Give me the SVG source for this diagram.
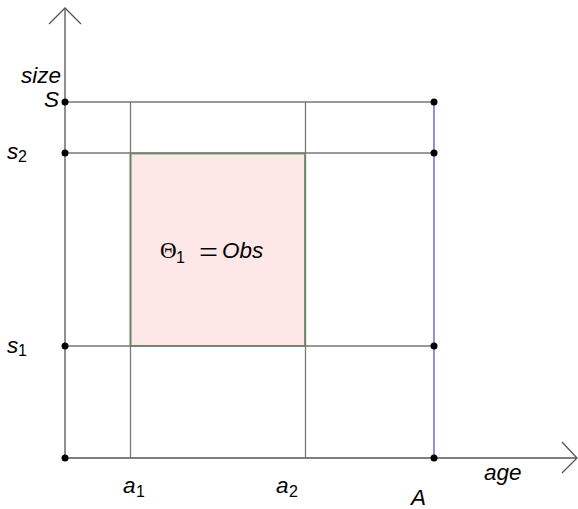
<svg xmlns="http://www.w3.org/2000/svg" width="578" height="509" viewBox="0 0 578 509">
<style>
.ln{stroke:#777;stroke-width:1.3;fill:none}
.ax{stroke:#555;stroke-width:1.3;fill:none}
.dot{fill:#000}
.t{font-family:"Liberation Sans",Arial,sans-serif;font-size:22.5px;font-style:italic;fill:#000}
.sub{font-family:"Liberation Sans",Arial,sans-serif;font-size:16px;font-style:normal;fill:#000}
.m{font-family:"Liberation Serif","Times New Roman",serif;font-size:23px;fill:#000}
.eq{font-family:"Liberation Serif","Times New Roman",serif;font-size:32px;fill:#000}
</style>
<rect width="578" height="509" fill="#fff"/>
<g id="region">
<rect x="130.5" y="153.5" width="174.5" height="192.5" fill="#fde8e7" stroke="#6aac5f" stroke-width="2"/>
<text x="160" y="258" class="m">Θ</text>
<text x="176" y="263" class="sub">1</text>
<text x="199" y="263" class="eq" textLength="19" lengthAdjust="spacingAndGlyphs">=</text>
<text x="222" y="258" class="t">Obs</text>
</g>
<g id="connectors">
<line class="ax" x1="65" y1="8" x2="65" y2="458"/>
<polyline class="ax" points="49,24 65,8 81,24"/>
<line class="ax" x1="65" y1="458" x2="576" y2="458"/>
<polyline class="ax" points="562,442 577,458 562,473"/>
<line class="ln" x1="65" y1="102" x2="434" y2="102"/>
<line class="ln" x1="65" y1="153" x2="434" y2="153"/>
<line class="ln" x1="65" y1="346" x2="434" y2="346"/>
<line class="ln" x1="130.5" y1="102" x2="130.5" y2="458"/>
<line class="ln" x1="305.5" y1="102" x2="305.5" y2="458"/>
<line stroke="#6b6bd6" stroke-width="1.5" x1="434" y1="102" x2="434" y2="458"/>
</g>
<g id="points">
<circle class="dot" cx="65" cy="102" r="3.5"/>
<circle class="dot" cx="65" cy="153" r="3.5"/>
<circle class="dot" cx="65" cy="346" r="3.5"/>
<circle class="dot" cx="65" cy="458" r="3.5"/>
<circle class="dot" cx="434" cy="102" r="3.5"/>
<circle class="dot" cx="434" cy="153" r="3.5"/>
<circle class="dot" cx="434" cy="346" r="3.5"/>
<circle class="dot" cx="434" cy="458" r="3.5"/>
</g>
<g id="labels">
<text x="21" y="83" class="t">size</text>
<text x="44" y="107" class="t">S</text>
<text x="7" y="159" class="t">s</text><text x="18" y="162" class="sub">2</text>
<text x="7" y="353" class="t">s</text><text x="18" y="356" class="sub">1</text>
<text x="123" y="493" class="t">a</text><text x="136" y="497" class="sub">1</text>
<text x="276" y="493" class="t">a</text><text x="289" y="497" class="sub">2</text>
<text x="484" y="480" class="t">age</text>
<text x="411" y="505" class="t">A</text>
</g>
</svg>
